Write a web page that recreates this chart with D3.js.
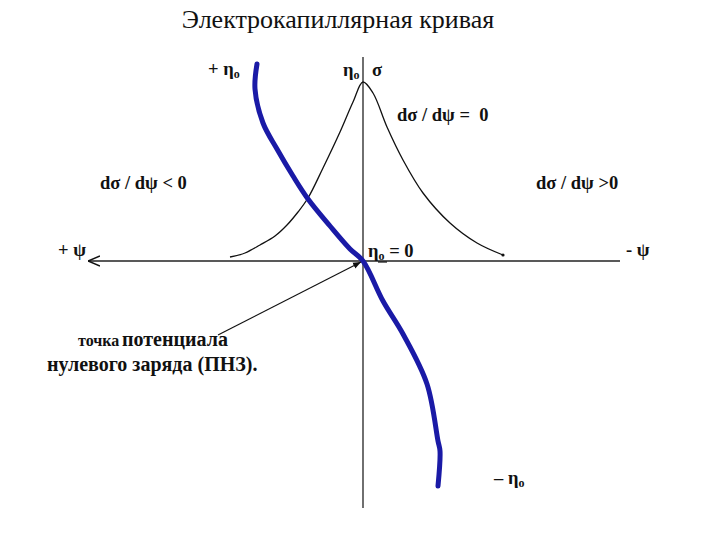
<!DOCTYPE html>
<html lang="ru">
<head>
<meta charset="UTF-8">
<title>Электрокапиллярная кривая</title>
<script src="https://d3js.org/d3.v7.min.js"></script>
<style>
  body { margin: 0; background: #fff; }
  text { font-family: "Liberation Serif", "Times New Roman", "DejaVu Serif", serif; fill: #111; white-space: pre; }
  .lbl { font-weight: bold; font-size: 18.5px; }
</style>
</head>
<body>
<svg id="chart"></svg>
<script>
// electrocapillary curve sigma(psi), psi grows to the left
var bellPsi   = [13.3, 11.8, 10.3, 8.8, 7.6, 6.5, 5.5, 4.0, 2.3, 1.0, 0, -1.0, -2.4, -4.0, -6.0, -8.7, -11.4, -14.0];
var bellSigma = [0.4, 0.8, 1.6, 2.5, 3.6, 4.9, 6.3, 9.3, 12.9, 15.9, 17.9, 16.8, 13.4, 10.1, 6.8, 3.8, 1.8, 0.6];

// surface charge eta0(psi)
var chargePsi = [10.6, 10.8, 10.0, 8.6, 7.0, 5.5, 3.3, 1.3, 0, -2.0, -4.0, -6.4, -7.5, -7.7, -7.5];
var chargeEta = [19.7, 17.2, 13.8, 11.2, 8.5, 6.2, 3.5, 1.2, 0, -4.0, -7.3, -12.3, -18.0, -19.0, -22.5];

var psiDomain = [27.5, -25.7];
var yDomain = [20.4, -24.7];

var width = 720, height = 540;
var svg = d3.select("#chart").attr("width", width).attr("height", height);

var x = d3.scaleLinear().domain(psiDomain).range([88, 620]);
var y = d3.scaleLinear().domain(yDomain).range([57, 508]);

var defs = svg.append("defs");
defs.append("marker")
    .attr("id", "open")
    .attr("viewBox", "0 -6 12 12")
    .attr("refX", 0).attr("refY", 0)
    .attr("markerWidth", 12).attr("markerHeight", 12)
    .attr("markerUnits", "userSpaceOnUse")
    .attr("orient", "auto")
    .append("path")
    .attr("d", "M12,-5L0,0L12,5")
    .attr("fill", "none").attr("stroke", "#111").attr("stroke-width", 1.6);
defs.append("marker")
    .attr("id", "head")
    .attr("viewBox", "0 -5 10 10")
    .attr("refX", 10).attr("refY", 0)
    .attr("markerWidth", 8).attr("markerHeight", 8)
    .attr("markerUnits", "userSpaceOnUse")
    .attr("orient", "auto")
    .append("path")
    .attr("d", "M0,-4L10,0L0,4Z")
    .attr("fill", "#111");

// title
svg.append("text")
    .attr("x", 338).attr("y", 28)
    .attr("text-anchor", "middle")
    .style("font-size", "26px")
    .text("Электрокапиллярная кривая");

// axes
svg.append("line")
    .attr("x1", x(psiDomain[0])).attr("x2", x(psiDomain[1]))
    .attr("y1", y(0)).attr("y2", y(0))
    .attr("stroke", "#222").attr("stroke-width", 1.3)
    .attr("marker-start", "url(#open)");
svg.append("line")
    .attr("x1", x(0)).attr("x2", x(0))
    .attr("y1", y(yDomain[0])).attr("y2", y(yDomain[1]))
    .attr("stroke", "#222").attr("stroke-width", 1.3);

var line = d3.line().curve(d3.curveCatmullRom.alpha(0.5));

svg.append("path")
    .attr("d", line(bellPsi.map(function(p, i){ return [x(p), y(bellSigma[i])]; })))
    .attr("fill", "none").attr("stroke", "#111").attr("stroke-width", 1.3);
svg.append("circle")
    .attr("cx", x(bellPsi[bellPsi.length - 1])).attr("cy", y(bellSigma[bellSigma.length - 1]))
    .attr("r", 1.6).attr("fill", "#111");

svg.append("path")
    .attr("d", line(chargePsi.map(function(p, i){ return [x(p), y(chargeEta[i])]; })))
    .attr("fill", "none").attr("stroke", "#1a1aa6").attr("stroke-width", 5)
    .attr("stroke-linecap", "round");

// pointer to zero charge point
svg.append("line")
    .attr("x1", 218).attr("y1", 335)
    .attr("x2", x(0) - 2).attr("y2", y(0) + 1)
    .attr("stroke", "#111").attr("stroke-width", 1.2)
    .attr("marker-end", "url(#head)");

function eta(prefix, sx, sy) {
    var t = svg.append("text").attr("class", "lbl").attr("x", sx).attr("y", sy);
    if (prefix) t.append("tspan").text(prefix);
    t.append("tspan").text("η");
    t.append("tspan").attr("dy", 3).style("font-size", "12px").text("o");
    return t;
}

eta("+ ", 208, 75);
eta("", 343, 76);
svg.append("text").attr("class", "lbl").attr("x", 372).attr("y", 76).text("σ");
eta("– ", 494, 484);

var zero = eta("", 368, 257);
zero.append("tspan").attr("dy", -3).text(" = 0");
svg.append("line")
    .attr("x1", 378).attr("x2", 387).attr("y1", 262).attr("y2", 262)
    .attr("stroke", "#111").attr("stroke-width", 1.2);

svg.append("text").attr("class", "lbl").attr("x", 397).attr("y", 121).text("dσ / dψ =  0");
svg.append("text").attr("class", "lbl").attr("x", 100).attr("y", 189).text("dσ / dψ < 0");
svg.append("text").attr("class", "lbl").attr("x", 536).attr("y", 189).text("dσ / dψ >0");
svg.append("text").attr("class", "lbl").attr("x", 58).attr("y", 256).text("+ ψ");
svg.append("text").attr("class", "lbl").attr("x", 626).attr("y", 256).text("- ψ");

var pz = svg.append("text").attr("class", "lbl").attr("y", 346);
pz.append("tspan").attr("x", 78).style("font-size", "16px").text("точка");
pz.append("tspan").attr("x", 122).style("font-size", "20px").text("потенциала");
svg.append("text").attr("class", "lbl").attr("x", 47).attr("y", 371)
    .style("font-size", "20px").text("нулевого заряда (ПНЗ).");
</script>
</body>
</html>
